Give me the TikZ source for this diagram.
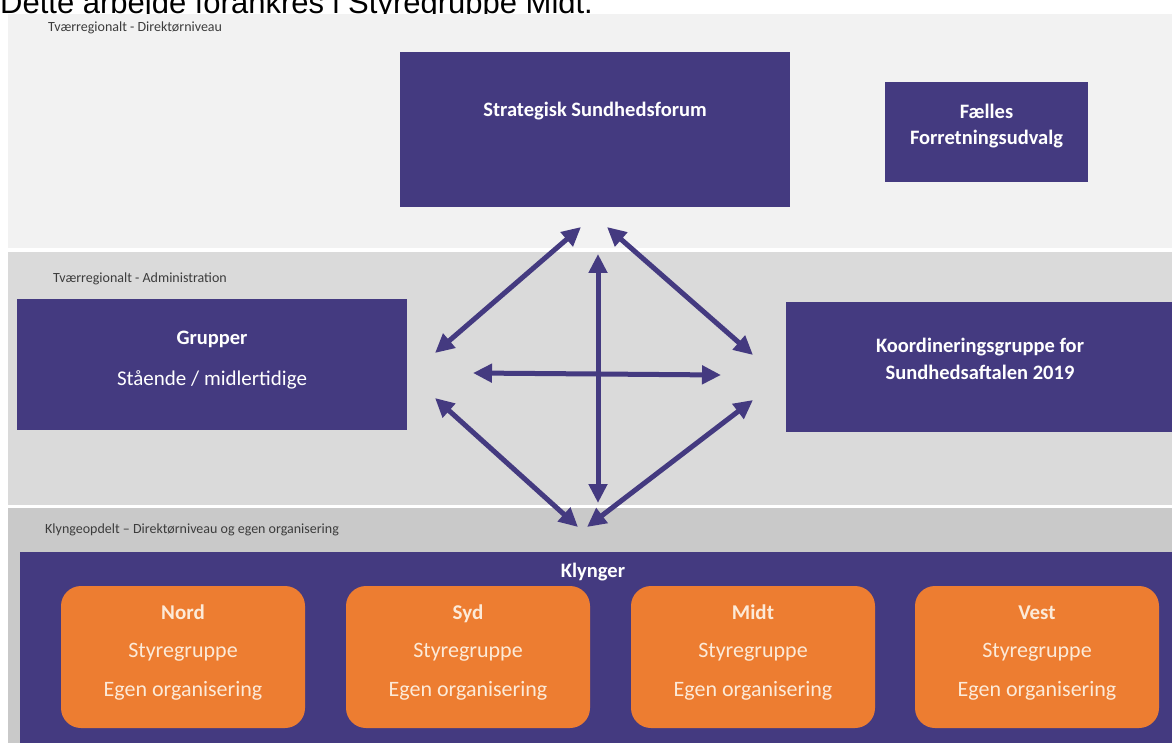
\documentclass[tikz,border=0pt]{standalone}
\usepackage{fontspec}
\setmainfont{Carlito}
\newfontfamily\arialf{Liberation Sans}
\usetikzlibrary{arrows.meta}
\definecolor{pur}{RGB}{68,58,128}
\definecolor{org}{RGB}{237,125,49}
\definecolor{orgtxt}{RGB}{252,234,216}
\definecolor{bandA}{RGB}{242,242,242}
\definecolor{bandB}{RGB}{218,218,218}
\definecolor{bandC}{RGB}{201,201,201}
\definecolor{lbl}{RGB}{60,60,60}
\begin{document}
\begin{tikzpicture}[x=1pt,y=-1pt,
  pbox/.style={fill=pur,draw=none,inner sep=0,anchor=center},
  obox/.style={fill=org,draw=none,rounded corners=20pt,inner sep=0,anchor=center,minimum width=244pt,minimum height=142pt},
  ptxt/.style={text=white,inner sep=0,anchor=center,text height=14pt,text depth=5pt,font=\fontsize{21}{25}\selectfont},
  ptxtb/.style={ptxt,font=\bfseries\fontsize{20.5}{25}\selectfont},
  otxt/.style={text=orgtxt,inner sep=0,anchor=center,text height=15pt,text depth=5pt,font=\fontsize{22}{26}\selectfont},
  otxtb/.style={otxt,font=\bfseries\fontsize{21}{26}\selectfont},
  bandlbl/.style={text=lbl,inner sep=0,anchor=west,font=\fontsize{14}{16}\selectfont},
  dbl/.style={draw=pur,line width=5pt,{Triangle[length=19pt,width=18pt]}-{Triangle[length=19pt,width=18pt]}}
]
\useasboundingbox (0,0) rectangle (1172,743);
\clip (0,0) rectangle (1172,743);
\fill[white] (0,0) rectangle (1172,743);
\node[anchor=base west,inner sep=0,font=\arialf\fontsize{31}{36}\selectfont] (title) at (0,14) {Dette arbejde forankres i Styregruppe Midt.};
% bands
\fill[bandA] (8,14) rectangle (1172,248);
\fill[bandB] (8,252) rectangle (1172,505);
\fill[bandC] (8,508) rectangle (1172,743);
\node[bandlbl] (l1) at (48,28) {Tværregionalt - Direktørniveau};
\node[bandlbl] (l2) at (53,279) {Tværregionalt - Administration};
\node[bandlbl] (l3) at (45,530) {Klyngeopdelt – Direktørniveau og egen organisering};
% top boxes
\node[pbox,minimum width=390pt,minimum height=155pt] (ssf) at (595,129.5) {};
\node[ptxtb] (ssft) at (595,112) {Strategisk Sundhedsforum};
\node[pbox,minimum width=203pt,minimum height=100pt] (ffu) at (986.5,132) {};
\node[ptxtb] (ffut1) at (986.5,114) {Fælles};
\node[ptxtb] (ffut2) at (986.5,140) {Forretningsudvalg};
% middle boxes
\node[pbox,minimum width=390pt,minimum height=131pt] (grp) at (212,364.5) {};
\node[ptxtb] (grpt1) at (212,340) {Grupper};
\node[ptxt] (grpt2) at (212,381) {Stående / midlertidige};
\node[pbox,minimum width=386pt,minimum height=130pt] (kor) at (979,367) {};
\node[ptxtb] (kort1) at (980,348) {Koordineringsgruppe for};
\node[ptxtb] (kort2) at (980,375) {Sundhedsaftalen 2019};
% klynger
\node[pbox,minimum width=1152pt,minimum height=200pt] (kly) at (596,652) {};
\node[ptxtb] (klyt) at (593,573) {Klynger};
\foreach \nm/\cx in {Nord/183,Syd/468,Midt/753,Vest/1037}{
  \node[obox] (\nm) at (\cx,657) {};
  \node[otxtb] (\nm-a) at (\cx,614) {\nm};
  \node[otxt] (\nm-b) at (\cx,652) {Styregruppe};
  \node[otxt] (\nm-c) at (\cx,691) {Egen organisering};
}
% arrows
\coordinate (a1) at (435,353); \coordinate (a2) at (581,227);
\coordinate (b1) at (607,227); \coordinate (b2) at (753,355);
\coordinate (c1) at (598,254); \coordinate (c2) at (598,503);
\coordinate (d1) at (473,373); \coordinate (d2) at (721,375);
\coordinate (e1) at (435,398); \coordinate (e2) at (578,527);
\coordinate (f1) at (753,400); \coordinate (f2) at (587,527);
\draw[dbl] (a1) -- (a2);
\draw[dbl] (b1) -- (b2);
\draw[dbl] (c1) -- (c2);
\draw[dbl] (d1) -- (d2);
\draw[dbl] (e1) -- (e2);
\draw[dbl] (f1) -- (f2);
\end{tikzpicture}
\end{document}
